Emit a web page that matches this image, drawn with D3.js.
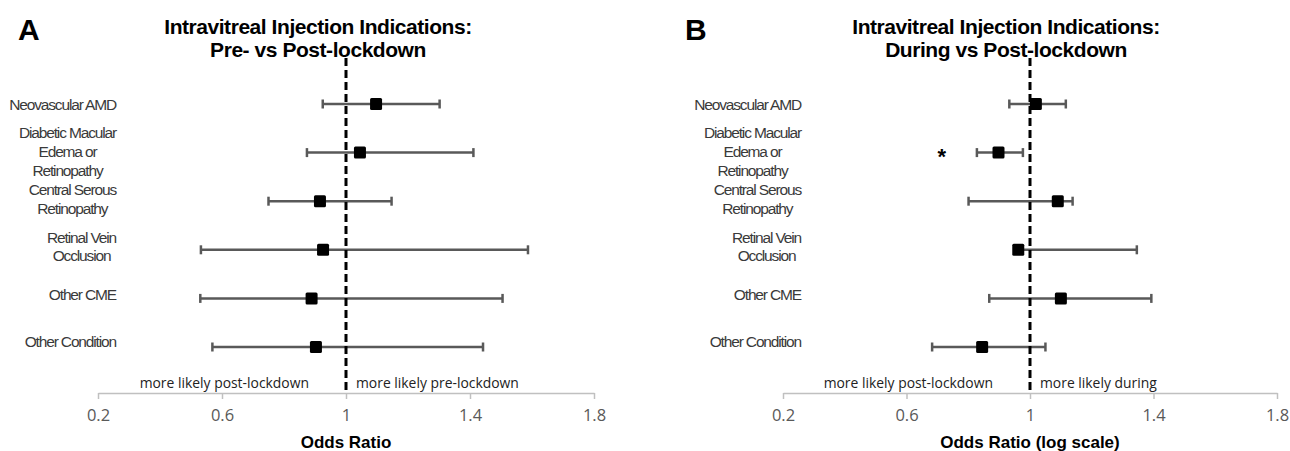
<!DOCTYPE html>
<html>
<head>
<meta charset="utf-8">
<script src="https://cdn.jsdelivr.net/npm/d3@7"></script>
<style>
  html, body { margin: 0; padding: 0; background: #fff; }
  svg { display: block; }
</style>
</head>
<body>
<svg id="chart" width="1290" height="451"></svg>
<script>
// ---------------- DATA ----------------
const categories = [
  ["Neovascular AMD"],
  ["Diabetic Macular", "Edema or", "Retinopathy"],
  ["Central Serous", "Retinopathy"],
  ["Retinal Vein", "Occlusion"],
  ["Other CME"],
  ["Other Condition"]
];
const tickValues = [0.2, 0.6, 1, 1.4, 1.8];
const tickLabels = ["0.2", "0.6", "1", "1.4", "1.8"];

// Panel A: Pre- vs Post-lockdown
const orA  = [1.097, 1.045, 0.916, 0.926, 0.889, 0.903];
const lowA = [0.925, 0.874, 0.750, 0.532, 0.530, 0.569];
const highA= [1.302, 1.411, 1.147, 1.587, 1.505, 1.442];

// Panel B: During vs Post-lockdown
const orB  = [1.019, 0.898, 1.090, 0.962, 1.100, 0.845];
const lowB = [0.933, 0.828, 0.801, 0.955, 0.868, 0.683];
const highB= [1.116, 0.977, 1.138, 1.346, 1.393, 1.050];
const signifB = [false, true, false, false, false, false];

const panels = [
  { letter: "A", title: ["Intravitreal Injection Indications:", "Pre- vs Post-lockdown"],
    or: orA, low: lowA, high: highA, signif: [false,false,false,false,false,false],
    left: "more likely post-lockdown", right: "more likely pre-lockdown",
    xlabel: "Odds Ratio", x0: 0, range: [98, 594], titleX: 318, letterX: 18 },
  { letter: "B", title: ["Intravitreal Injection Indications:", "During vs Post-lockdown"],
    or: orB, low: lowB, high: highB, signif: signifB,
    left: "more likely post-lockdown", right: "more likely during",
    xlabel: "Odds Ratio (log scale)", x0: 685, range: [783, 1277], titleX: 1006, letterX: 685 }
];

// ---------------- DRAW ----------------
const svg = d3.select("#chart");
const axisY = 393;
const y = d3.scalePoint().domain(d3.range(categories.length)).range([104, 347]);

const labelFont = "'Liberation Sans', Arial, sans-serif";
const calFont = "'Open Sans', 'Noto Sans', sans-serif";

panels.forEach(p => {
  const g = svg.append("g");
  const x = d3.scaleLinear().domain([0.2, 1.8]).range(p.range);
  const labelRight = p.x0 + 116;

  // Panel letter
  g.append("text").attr("x", p.letterX).attr("y", 40)
    .attr("font-family", labelFont).attr("font-weight", "bold").attr("font-size", 30)
    .attr("fill", "#000").text(p.letter);

  // Title
  p.title.forEach((t, i) => {
    g.append("text").attr("x", p.titleX).attr("y", 34 + i * 23)
      .attr("text-anchor", "middle").attr("font-family", labelFont)
      .attr("font-weight", "bold").attr("font-size", 21).attr("fill", "#000")
      .attr("letter-spacing", "-0.45px").text(t);
  });

  // Category labels (centered blocks, right-aligned overall)
  categories.forEach((lines, i) => {
    const lineH = 18.7;
    const cy = y(i) - i * 1.1;
    const tg = g.append("g");
    const texts = lines.map((ln, j) => tg.append("text")
      .attr("y", cy + (j - (lines.length - 1) / 2) * lineH + 5.5)
      .attr("font-family", labelFont).attr("font-size", 15.5)
      .attr("letter-spacing", "-1.15px").attr("fill", "#3a3a3a")
      .attr("text-anchor", "middle").text(ln));
    const widths = texts.map(t => t.node().getComputedTextLength());
    const maxW = d3.max(widths);
    texts.forEach(t => t.attr("x", labelRight - maxW / 2));
  });

  // Axis
  const axis = d3.axisBottom(x).tickValues(tickValues)
    .tickFormat((d, i) => tickLabels[i]).tickSizeInner(6).tickSizeOuter(0).tickPadding(10);
  const ax = g.append("g").attr("transform", `translate(0,${axisY})`).call(axis);
  ax.select(".domain").attr("stroke", "#c0c0c0").attr("stroke-width", 1.5);
  ax.selectAll(".tick line").attr("stroke", "#c0c0c0").attr("stroke-width", 1.5);
  ax.selectAll(".tick text").attr("font-family", calFont).attr("font-size", 16.5)
    .attr("fill", "#595959");

  // Axis title
  g.append("text").attr("x", x(1)).attr("y", 448).attr("text-anchor", "middle")
    .attr("font-family", labelFont).attr("font-weight", "bold").attr("font-size", 17)
    .attr("fill", "#000").text(p.xlabel);

  // Annotations
  g.append("text").attr("x", x(1) - 37).attr("y", 388).attr("text-anchor", "end")
    .attr("font-family", calFont).attr("font-size", 13.9).attr("fill", "#222").text(p.left);
  g.append("text").attr("x", x(1) + 10).attr("y", 388).attr("text-anchor", "start")
    .attr("font-family", calFont).attr("font-size", 13.9).attr("fill", "#222").text(p.right);

  // Error bars
  const rows = d3.range(categories.length).map(i => ({
    i, or: p.or[i], low: p.low[i], high: p.high[i], sig: p.signif[i]
  }));
  const eb = g.append("g").attr("stroke", "#595959").attr("stroke-width", 2.5);
  eb.selectAll("line.bar").data(rows).join("line").attr("class", "bar")
    .attr("x1", d => x(d.low)).attr("x2", d => x(d.high))
    .attr("y1", d => y(d.i)).attr("y2", d => y(d.i));
  eb.selectAll("line.capL").data(rows).join("line").attr("class", "capL")
    .attr("x1", d => x(d.low)).attr("x2", d => x(d.low))
    .attr("y1", d => y(d.i) - 4.5).attr("y2", d => y(d.i) + 4.5);
  eb.selectAll("line.capH").data(rows).join("line").attr("class", "capH")
    .attr("x1", d => x(d.high)).attr("x2", d => x(d.high))
    .attr("y1", d => y(d.i) - 4.5).attr("y2", d => y(d.i) + 4.5);

  // Reference dashed line at OR = 1
  g.append("line").attr("x1", x(1)).attr("x2", x(1)).attr("y1", 58).attr("y2", axisY)
    .attr("stroke", "#000").attr("stroke-width", 3).attr("stroke-dasharray", "8,4");

  // Markers
  const s = 12;
  g.selectAll("rect.pt").data(rows).join("rect").attr("class", "pt")
    .attr("x", d => x(d.or) - s / 2).attr("y", d => y(d.i) - s / 2)
    .attr("width", s).attr("height", s).attr("rx", 1.5).attr("fill", "#000");

  // Significance asterisks
  g.selectAll("text.sig").data(rows.filter(d => d.sig)).join("text").attr("class", "sig")
    .attr("x", d => x(d.low) - 35).attr("y", d => y(d.i) + 11)
    .attr("text-anchor", "middle").attr("font-family", labelFont)
    .attr("font-weight", "bold").attr("font-size", 22).text("*");
});
</script>
</body>
</html>
